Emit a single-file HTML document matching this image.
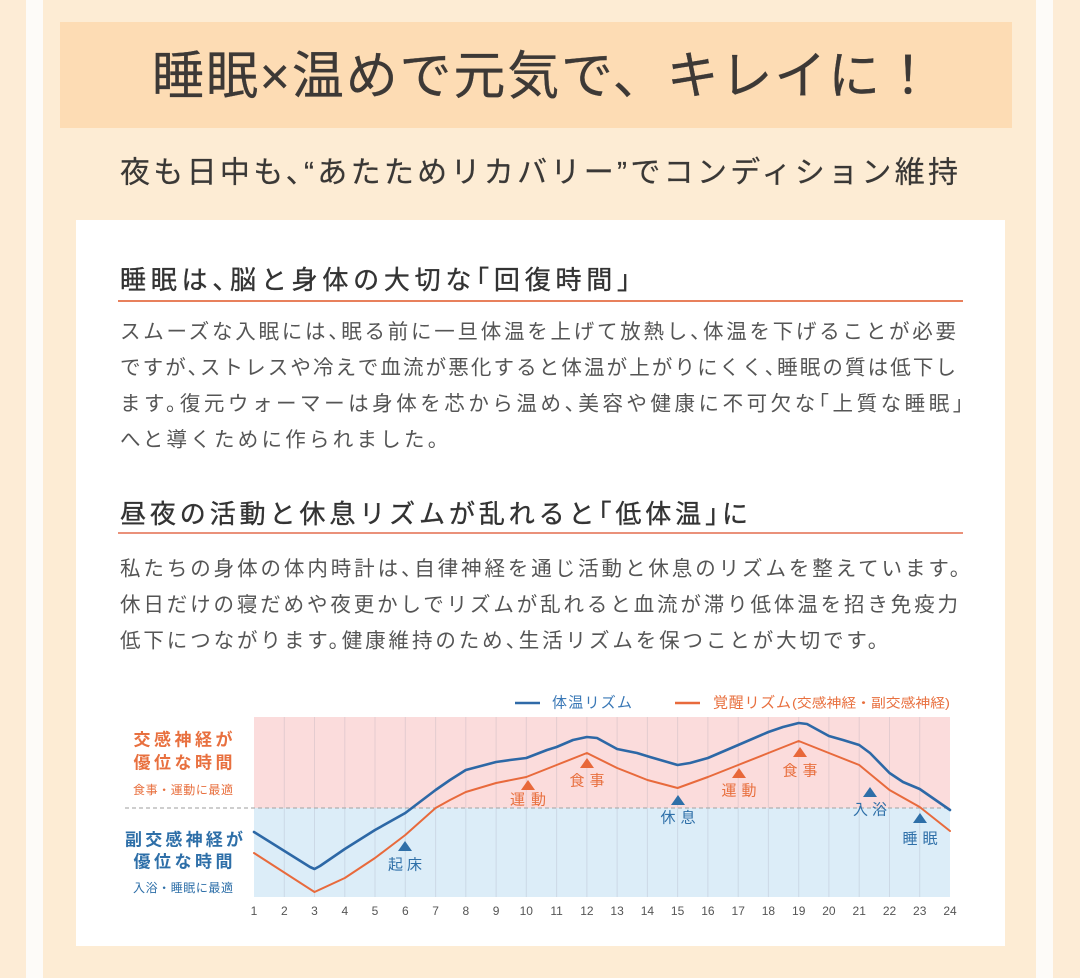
<!DOCTYPE html>
<html lang="ja">
<head>
<meta charset="utf-8">
<style>
  html,body{margin:0;padding:0;background:#fdecd6;}
  body{width:1080px;height:978px;overflow:hidden;}
  svg{display:block;}
  text{font-family:"Liberation Sans","Noto Sans CJK JP",sans-serif;}
  .h{font-feature-settings:"halt" 1;}
</style>
</head>
<body>
<svg width="1080" height="978" viewBox="0 0 1080 978" xmlns="http://www.w3.org/2000/svg">
  <!-- background & frame -->
  <rect x="0" y="0" width="1080" height="978" fill="#fdecd6"/>
  <rect x="26" y="0" width="17" height="978" fill="#fdfbf8"/>
  <rect x="1036" y="0" width="17" height="978" fill="#fdfbf8"/>
  <rect x="43" y="0" width="993" height="978" fill="#fdecd4"/>

  <!-- header band -->
  <rect x="60" y="22" width="952" height="106" fill="#fddcb4"/>
  <text x="152" y="77" dominant-baseline="central" font-size="52" fill="#3d3936" stroke="#3d3936" stroke-width="0.25" textLength="782" lengthAdjust="spacing">睡眠×温めで元気で、キレイに！</text>

  <!-- subtitle -->
  <text class="h" x="120" y="173" dominant-baseline="central" font-size="30" fill="#3a3836" stroke="#3a3836" stroke-width="0.2" textLength="838" lengthAdjust="spacing">夜も日中も、“あたためリカバリー”でコンディション維持</text>

  <!-- white card -->
  <rect x="76" y="220" width="929" height="726" fill="#ffffff"/>

  <!-- section 1 -->
  <text class="h" x="120" y="280" dominant-baseline="central" font-size="26" fill="#333" stroke="#333" stroke-width="0.35" textLength="510" lengthAdjust="spacing">睡眠は、脳と身体の大切な「回復時間」</text>
  <line x1="118" y1="301" x2="963" y2="301" stroke="#e8805c" stroke-width="2"/>

  <g font-size="20.5" fill="#555">
    <text class="h" x="120" y="332" dominant-baseline="central" textLength="836" lengthAdjust="spacing">スムーズな入眠には、眠る前に一旦体温を上げて放熱し、体温を下げることが必要</text>
    <text class="h" x="120" y="368" dominant-baseline="central" textLength="836" lengthAdjust="spacing">ですが、ストレスや冷えで血流が悪化すると体温が上がりにくく、睡眠の質は低下し</text>
    <text class="h" x="120" y="404" dominant-baseline="central" textLength="843" lengthAdjust="spacing">ます。復元ウォーマーは身体を芯から温め、美容や健康に不可欠な「上質な睡眠」</text>
    <text class="h" x="120" y="440" dominant-baseline="central" textLength="318" lengthAdjust="spacing">へと導くために作られました。</text>
  </g>

  <!-- section 2 -->
  <text class="h" x="120" y="514" dominant-baseline="central" font-size="26" fill="#333" stroke="#333" stroke-width="0.35" textLength="628" lengthAdjust="spacing">昼夜の活動と休息リズムが乱れると「低体温」に</text>
  <line x1="118" y1="533" x2="963" y2="533" stroke="#ea917a" stroke-width="2"/>

  <g font-size="20.5" fill="#555">
    <text class="h" x="120" y="569" dominant-baseline="central" textLength="840" lengthAdjust="spacing">私たちの身体の体内時計は、自律神経を通じ活動と休息のリズムを整えています。</text>
    <text class="h" x="120" y="605" dominant-baseline="central" textLength="838" lengthAdjust="spacing">休日だけの寝だめや夜更かしでリズムが乱れると血流が滞り低体温を招き免疫力</text>
    <text class="h" x="120" y="641" dominant-baseline="central" textLength="758" lengthAdjust="spacing">低下につながります。健康維持のため、生活リズムを保つことが大切です。</text>
  </g>

  <!-- chart legend -->
  <line x1="515" y1="703" x2="540" y2="703" stroke="#2f6aa8" stroke-width="2.5"/>
  <text x="552" y="703" dominant-baseline="central" font-size="15" fill="#3a78b6" textLength="80" lengthAdjust="spacing">体温リズム</text>
  <line x1="675" y1="703" x2="700" y2="703" stroke="#e86a3c" stroke-width="2.5"/>
  <text x="713" y="703" dominant-baseline="central" font-size="15" fill="#e8703f" textLength="78" lengthAdjust="spacing">覚醒リズム</text>
  <text x="792" y="703" dominant-baseline="central" font-size="13" fill="#e8703f" textLength="158" lengthAdjust="spacingAndGlyphs">(交感神経・副交感神経)</text>

  <!-- chart areas -->
  <rect x="254" y="717" width="696" height="91" fill="#fbdcdc"/>
  <rect x="254" y="808" width="696" height="89" fill="#dcedf8"/>

  <!-- grid lines -->
  <g stroke="#8c8ca0" stroke-opacity="0.2" stroke-width="1">
    <line x1="284.3" y1="717" x2="284.3" y2="897"/>
    <line x1="314.5" y1="717" x2="314.5" y2="897"/>
    <line x1="344.8" y1="717" x2="344.8" y2="897"/>
    <line x1="375" y1="717" x2="375" y2="897"/>
    <line x1="405.3" y1="717" x2="405.3" y2="897"/>
    <line x1="435.6" y1="717" x2="435.6" y2="897"/>
    <line x1="465.8" y1="717" x2="465.8" y2="897"/>
    <line x1="496.1" y1="717" x2="496.1" y2="897"/>
    <line x1="526.3" y1="717" x2="526.3" y2="897"/>
    <line x1="556.6" y1="717" x2="556.6" y2="897"/>
    <line x1="586.9" y1="717" x2="586.9" y2="897"/>
    <line x1="617.1" y1="717" x2="617.1" y2="897"/>
    <line x1="647.4" y1="717" x2="647.4" y2="897"/>
    <line x1="677.6" y1="717" x2="677.6" y2="897"/>
    <line x1="707.9" y1="717" x2="707.9" y2="897"/>
    <line x1="738.2" y1="717" x2="738.2" y2="897"/>
    <line x1="768.4" y1="717" x2="768.4" y2="897"/>
    <line x1="798.7" y1="717" x2="798.7" y2="897"/>
    <line x1="828.9" y1="717" x2="828.9" y2="897"/>
    <line x1="859.2" y1="717" x2="859.2" y2="897"/>
    <line x1="889.5" y1="717" x2="889.5" y2="897"/>
    <line x1="919.7" y1="717" x2="919.7" y2="897"/>
  </g>

  <!-- dashed divider -->
  <line x1="125" y1="808" x2="950" y2="808" stroke="#b0b0b0" stroke-width="1.3" stroke-dasharray="4 3"/>

  <!-- left labels -->
  <g font-weight="bold" text-anchor="middle">
    <text x="183" y="740" dominant-baseline="central" font-size="17" fill="#e8703f" textLength="99" lengthAdjust="spacing">交感神経が</text>
    <text x="183" y="763" dominant-baseline="central" font-size="17" fill="#e8703f" textLength="99" lengthAdjust="spacing">優位な時間</text>
    <text x="183" y="790" dominant-baseline="central" font-size="12" font-weight="normal" fill="#e8703f" textLength="100" lengthAdjust="spacing">食事・運動に最適</text>
    <text x="184" y="840" dominant-baseline="central" font-size="17" fill="#2e6fa8" textLength="118" lengthAdjust="spacing">副交感神経が</text>
    <text x="183" y="862" dominant-baseline="central" font-size="17" fill="#2e6fa8" textLength="99" lengthAdjust="spacing">優位な時間</text>
    <text x="183" y="888" dominant-baseline="central" font-size="12" font-weight="normal" fill="#2e6fa8" textLength="100" lengthAdjust="spacing">入浴・睡眠に最適</text>
  </g>

  <!-- curves -->
  <polyline fill="none" stroke="#e86a3c" stroke-width="2" stroke-linejoin="round" stroke-linecap="round"
    points="254,853 314.5,892 344.8,878 375,858 405.3,835 435.6,808 450,800 465.8,792 496.1,783 526.3,777 556.6,765 586.9,753 617.1,768 647.4,780 677.6,788 707.9,777 738.2,765 768.4,753 798.7,741 828.9,753 859.2,765 889.5,790 919.7,807 950,831"/>
  <polyline fill="none" stroke="#2d68a6" stroke-width="2.6" stroke-linejoin="round" stroke-linecap="round"
    points="254,832 310,867 314.5,869 320,866 344.8,849 375,830 405.3,813 435.6,790 450,780 465.8,770 496.1,762 510,760 526.3,758 547,750 556.6,747 573,740 586.9,737 597,738 617.1,749 637,753 650,757 677.6,765 690,763 707.9,758 738.2,745 768.4,732 783,727 798.7,723 807,724 828.9,736 843,740 859.2,745 870,753 889.5,773 903,782 919.7,789 950,810"/>

  <!-- markers -->
  <g>
    <polygon points="398,851 412,851 405,841" fill="#2e6fa8"/>
    <polygon points="521,790 535,790 528,780" fill="#e8683a"/>
    <polygon points="580,768 594,768 587,758" fill="#e8683a"/>
    <polygon points="671,805 685,805 678,795" fill="#2e6fa8"/>
    <polygon points="732,778 746,778 739,768" fill="#e8683a"/>
    <polygon points="793,757 807,757 800,747" fill="#e8683a"/>
    <polygon points="863,797 877,797 870,787" fill="#2e6fa8"/>
    <polygon points="913,823 927,823 920,813" fill="#2e6fa8"/>
  </g>
  <g font-size="15" text-anchor="middle">
    <text x="405" y="865" dominant-baseline="central" fill="#2e6fa8" textLength="34" lengthAdjust="spacing">起床</text>
    <text x="528" y="800" dominant-baseline="central" fill="#e8703f" textLength="36" lengthAdjust="spacing">運動</text>
    <text x="587" y="781" dominant-baseline="central" fill="#e8703f" textLength="35" lengthAdjust="spacing">食事</text>
    <text x="678" y="818" dominant-baseline="central" fill="#2e6fa8" textLength="35" lengthAdjust="spacing">休息</text>
    <text x="739" y="791" dominant-baseline="central" fill="#e8703f" textLength="35" lengthAdjust="spacing">運動</text>
    <text x="800" y="771" dominant-baseline="central" fill="#e8703f" textLength="35" lengthAdjust="spacing">食事</text>
    <text x="870" y="810" dominant-baseline="central" fill="#2e6fa8" textLength="34" lengthAdjust="spacing">入浴</text>
    <text x="920" y="839" dominant-baseline="central" fill="#2e6fa8" textLength="35" lengthAdjust="spacing">睡眠</text>
  </g>

  <!-- tick labels -->
  <g font-size="12" fill="#555" text-anchor="middle">
    <text x="254" y="911" dominant-baseline="central">1</text>
    <text x="284.3" y="911" dominant-baseline="central">2</text>
    <text x="314.5" y="911" dominant-baseline="central">3</text>
    <text x="344.8" y="911" dominant-baseline="central">4</text>
    <text x="375" y="911" dominant-baseline="central">5</text>
    <text x="405.3" y="911" dominant-baseline="central">6</text>
    <text x="435.6" y="911" dominant-baseline="central">7</text>
    <text x="465.8" y="911" dominant-baseline="central">8</text>
    <text x="496.1" y="911" dominant-baseline="central">9</text>
    <text x="526.3" y="911" dominant-baseline="central">10</text>
    <text x="556.6" y="911" dominant-baseline="central">11</text>
    <text x="586.9" y="911" dominant-baseline="central">12</text>
    <text x="617.1" y="911" dominant-baseline="central">13</text>
    <text x="647.4" y="911" dominant-baseline="central">14</text>
    <text x="677.6" y="911" dominant-baseline="central">15</text>
    <text x="707.9" y="911" dominant-baseline="central">16</text>
    <text x="738.2" y="911" dominant-baseline="central">17</text>
    <text x="768.4" y="911" dominant-baseline="central">18</text>
    <text x="798.7" y="911" dominant-baseline="central">19</text>
    <text x="828.9" y="911" dominant-baseline="central">20</text>
    <text x="859.2" y="911" dominant-baseline="central">21</text>
    <text x="889.5" y="911" dominant-baseline="central">22</text>
    <text x="919.7" y="911" dominant-baseline="central">23</text>
    <text x="950" y="911" dominant-baseline="central">24</text>
  </g>
</svg>
</body>
</html>
